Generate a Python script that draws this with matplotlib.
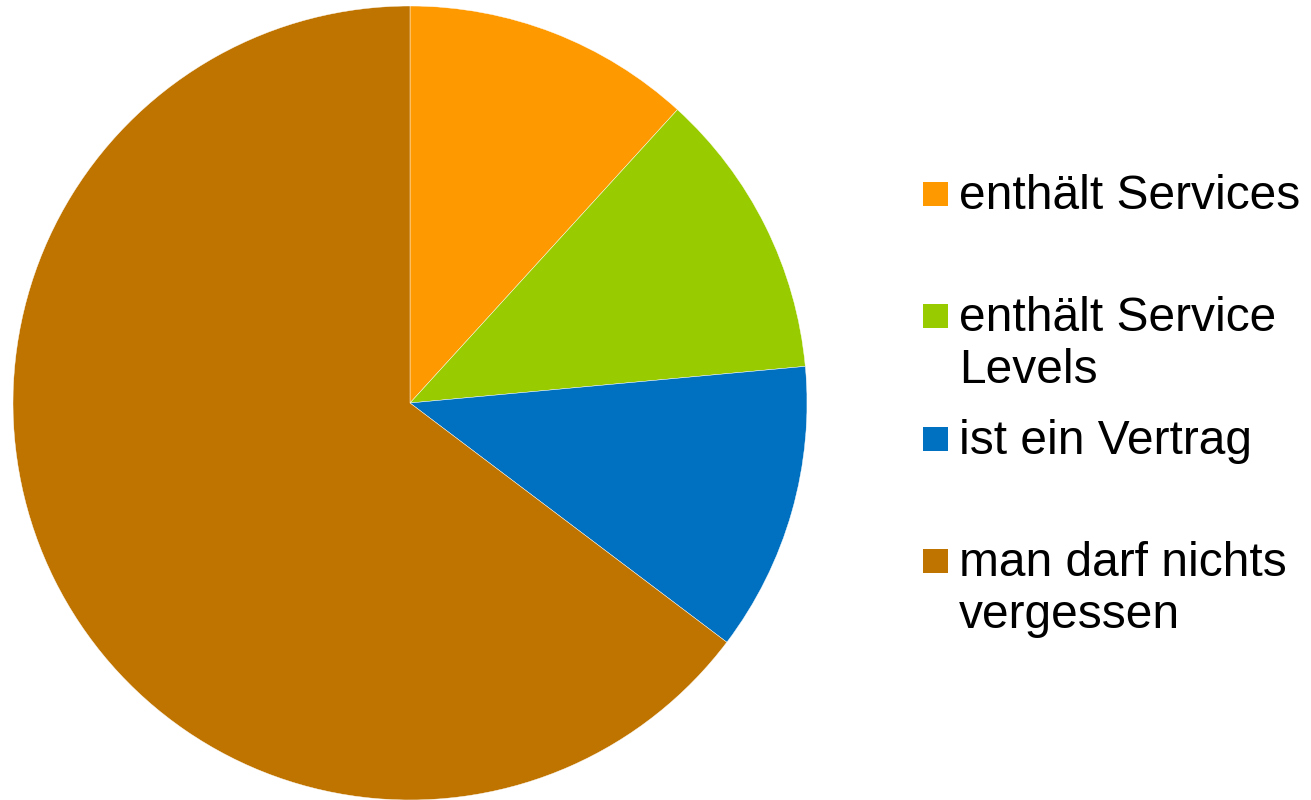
import matplotlib.pyplot as plt
from matplotlib.patches import Rectangle

labels = ['enthält Services', 'enthält Service\nLevels', 'ist ein Vertrag', 'man darf nichts\nvergessen']
values = [2, 2, 2, 11]
colors = ['#FF9900', '#99CC00', '#0070C0', '#C07400']

W, H = 1311, 800
fig = plt.figure(figsize=(W / 100, H / 100), dpi=100)

# Kreis: Mittelpunkt (410, 403) px, Radius 397 px
cx, cy, r = 410, 403, 397
ax = fig.add_axes([(cx - r) / W, (H - cy - r) / H, 2 * r / W, 2 * r / H])
ax.pie(values, colors=colors, startangle=90, counterclock=False, radius=1,
       wedgeprops=dict(edgecolor='white', linewidth=0.3))
ax.set_xlim(-1, 1)
ax.set_ylim(-1, 1)
ax.set_aspect('equal')
ax.axis('off')

# Legende von Hand (wie in Excel: gleiche Abstände pro Eintrag)
first_y = 194
step = 122.3
line_h = 52
for i, (lab, col) in enumerate(zip(labels, colors)):
    yc = first_y + i * step
    fig.patches.append(Rectangle((923 / W, (H - yc - 12) / H), 25 / W, 24 / H,
                                 transform=fig.transFigure, facecolor=col,
                                 edgecolor='none'))
    for j, line in enumerate(lab.split('\n')):
        yb = yc + 15 + j * line_h
        fig.text(959 / W, (H - yb) / H, line, fontsize=34.5, family='Liberation Sans',
                 va='baseline', ha='left', color='black')

fig.savefig('out.png', dpi=100)
